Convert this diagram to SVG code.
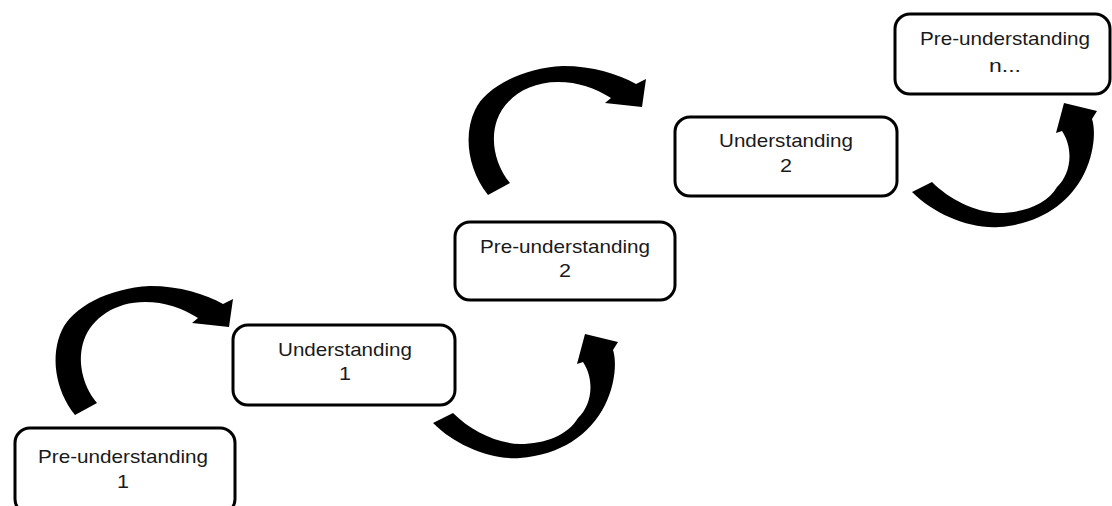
<svg xmlns="http://www.w3.org/2000/svg" xmlns:xlink="http://www.w3.org/1999/xlink" width="1112" height="506" viewBox="0 0 1112 506">
<style>
.box{fill:#fff;stroke:#000;stroke-width:3}
.lbl{font-family:"Liberation Sans",Arial,sans-serif;font-size:19px;fill:#1a1a1a;text-anchor:middle}
.arr{fill:#000}
</style>
<defs>
<path id="arcOver" d="M75,415 C55,390 50,355 62,330 C72,308 108,288 150,286 C180,286 205,294 223,304 L233,299 L229,327 L192,323 L198,318 C182,308 165,302 145,302 C115,302 92,318 84,340 C77,360 82,385 97,403 Z"/>
<path id="arcUnder" d="M433,423 C455,445 490,460 520,458 C560,455 590,435 605,405 C615,385 617,362 613,350 L618,342 L585,334 L577,364 L583,362 C595,380 592,405 578,418 C568,435 545,444 520,444 C495,443 470,430 453,413 Z"/>
</defs>
<rect width="1112" height="506" fill="#fff"/>
<g id="connectors" class="arr">
<use xlink:href="#arcOver"/>
<use xlink:href="#arcUnder"/>
<use xlink:href="#arcOver" transform="translate(413,-220)"/>
<use xlink:href="#arcUnder" transform="translate(479,-231)"/>
</g>
<g id="pre1">
<rect class="box" x="15" y="428" width="220" height="86" rx="15"/>
<text class="lbl" x="123" y="463" textLength="170" lengthAdjust="spacingAndGlyphs">Pre-understanding</text>
<text class="lbl" x="123" y="488" textLength="12" lengthAdjust="spacingAndGlyphs">1</text>
</g>
<g id="und1">
<rect class="box" x="233" y="325" width="222" height="80" rx="15"/>
<text class="lbl" x="345" y="356" textLength="134" lengthAdjust="spacingAndGlyphs">Understanding</text>
<text class="lbl" x="345" y="380" textLength="12" lengthAdjust="spacingAndGlyphs">1</text>
</g>
<g id="pre2">
<rect class="box" x="455" y="222" width="220" height="78" rx="15"/>
<text class="lbl" x="565" y="253" textLength="170" lengthAdjust="spacingAndGlyphs">Pre-understanding</text>
<text class="lbl" x="565" y="277" textLength="12" lengthAdjust="spacingAndGlyphs">2</text>
</g>
<g id="und2">
<rect class="box" x="675" y="117" width="222" height="79" rx="15"/>
<text class="lbl" x="786" y="147" textLength="134" lengthAdjust="spacingAndGlyphs">Understanding</text>
<text class="lbl" x="786" y="172" textLength="12" lengthAdjust="spacingAndGlyphs">2</text>
</g>
<g id="pren">
<rect class="box" x="895" y="14" width="215" height="80" rx="15"/>
<text class="lbl" x="1005" y="45" textLength="170" lengthAdjust="spacingAndGlyphs">Pre-understanding</text>
<text class="lbl" x="1005" y="72" textLength="32" lengthAdjust="spacingAndGlyphs">n...</text>
</g>
</svg>
